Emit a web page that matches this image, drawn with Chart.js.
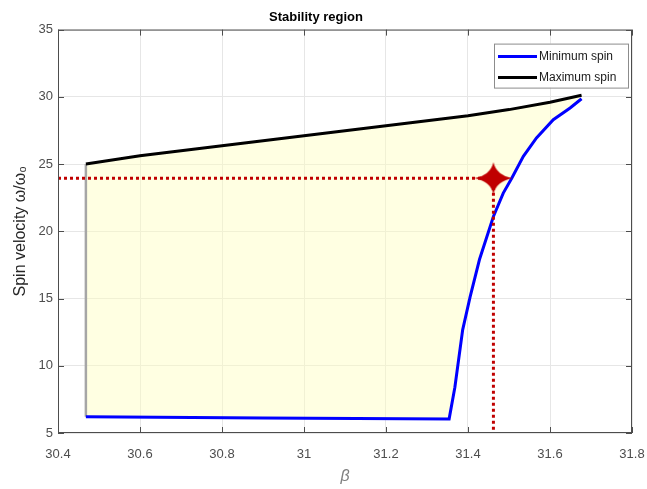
<!DOCTYPE html>
<html>
<head>
<meta charset="utf-8">
<title>Stability region</title>
<script src="https://cdn.jsdelivr.net/npm/chart.js@4.4.1/dist/chart.umd.min.js"></script>
<style>
  html, body { margin: 0; padding: 0; background: #fff; }
  #wrap { width: 647px; height: 489px; }
</style>
</head>
<body>
<div id="wrap"><canvas id="myChart" width="647" height="489"></canvas></div>
<script>
// values
let maxBeta = [30.468, 30.6, 30.8, 31.0, 31.2, 31.4, 31.5, 31.6, 31.677]
let maxSpin = [25.0, 25.62, 26.36, 27.1, 27.85, 28.6, 29.05, 29.6, 30.12]

let minBeta = [30.468, 30.9, 31.354, 31.368, 31.387, 31.405, 31.428, 31.462, 31.486, 31.507, 31.535, 31.567, 31.608, 31.649, 31.677]
let minSpin = [6.2, 6.12, 6.05, 8.4, 12.67, 15.1, 17.9, 21.1, 22.84, 23.96, 25.57, 26.94, 28.3, 29.17, 29.86]

// operating point (the red star)
let opBeta = [31.462]
let opSpin = [23.95]

// axes
let xTicks = [30.4, 30.6, 30.8, 31.0, 31.2, 31.4, 31.6, 31.8]
let yTicks = [5, 10, 15, 20, 25, 30, 35]

let font = '"Liberation Sans", Arial, sans-serif'

function toPoints(xs, ys) {
  return xs.map((x, i) => ({x: x, y: ys[i]}))
}

let maxLine = toPoints(maxBeta, maxSpin)
let minLine = toPoints(minBeta, minSpin)
// closed region between both curves
let region = maxLine.concat(minLine.slice().reverse())
// grey left edge of the region
let leftEdge = [{x: maxBeta[0], y: minSpin[0]}, {x: maxBeta[0], y: maxSpin[0]}]
// dotted guide lines to the axes
let guide = [
  {x: xTicks[0], y: opSpin[0]},
  {x: opBeta[0], y: opSpin[0]},
  {x: opBeta[0], y: yTicks[0]}
]

// 4 point star used as the marker
function makeStar() {
  let c = document.createElement('canvas')
  c.width = 40
  c.height = 34
  let g = c.getContext('2d')
  let cx = 20, cy = 17, k = 3
  g.fillStyle = '#c00000'
  g.beginPath()
  g.moveTo(cx - 19, cy)
  g.quadraticCurveTo(cx - k, cy - k, cx, cy - 16)
  g.quadraticCurveTo(cx + k, cy - k, cx + 19, cy)
  g.quadraticCurveTo(cx + k, cy + k, cx, cy + 16)
  g.quadraticCurveTo(cx - k, cy + k, cx - 19, cy)
  g.fill()
  return c
}

// box round the axes, inward ticks and the legend
const framePlugin = {
  id: 'framePlugin',
  afterDatasetsDraw(chart) {
    let ctx = chart.ctx
    let a = chart.chartArea
    let xs = chart.scales.x
    let ys = chart.scales.y
    ctx.save()
    ctx.strokeStyle = '#4d4d4d'
    ctx.lineWidth = 1
    ctx.strokeRect(a.left + 0.5, a.top + 0.5, a.right - a.left - 1, a.bottom - a.top - 1)
    ctx.beginPath()
    xTicks.forEach(v => {
      let px = Math.round(xs.getPixelForValue(v)) + 0.5
      ctx.moveTo(px, a.bottom)
      ctx.lineTo(px, a.bottom - 6)
      ctx.moveTo(px, a.top)
      ctx.lineTo(px, a.top + 6)
    })
    yTicks.forEach(v => {
      let py = Math.round(ys.getPixelForValue(v)) + 0.5
      ctx.moveTo(a.left, py)
      ctx.lineTo(a.left + 6, py)
      ctx.moveTo(a.right, py)
      ctx.lineTo(a.right - 6, py)
    })
    ctx.stroke()
    ctx.restore()
  },
  afterDraw(chart) {
    let ctx = chart.ctx
    let a = chart.chartArea
    let items = chart.data.datasets.filter(d => d.inLegend)
    let w = 134, h = 44
    let x0 = a.right - 4 - w
    let y0 = a.top + 14
    ctx.save()
    ctx.fillStyle = '#fff'
    ctx.fillRect(x0, y0, w, h)
    ctx.strokeStyle = '#8c8c8c'
    ctx.lineWidth = 1
    ctx.strokeRect(x0 + 0.5, y0 + 0.5, w, h)
    ctx.font = '12px ' + font
    ctx.textBaseline = 'middle'
    items.forEach((d, i) => {
      let y = y0 + 13 + i * 21
      ctx.strokeStyle = d.borderColor
      ctx.lineWidth = 3
      ctx.beginPath()
      ctx.moveTo(x0 + 4, y)
      ctx.lineTo(x0 + 43, y)
      ctx.stroke()
      ctx.fillStyle = '#1a1a1a'
      ctx.fillText(d.label, x0 + 45, y)
    })
    ctx.restore()
  }
}

new Chart('myChart', {
  type: 'line',
  data: {
    datasets: [
      {
        label: 'Operating point',
        data: toPoints(opBeta, opSpin),
        showLine: false,
        pointStyle: makeStar(),
        pointRadius: 10,
        order: 0
      },
      {
        label: 'Guide',
        data: guide,
        borderColor: '#c00000',
        borderWidth: 3,
        borderDash: [3, 3],
        pointRadius: 0,
        fill: false,
        order: 1
      },
      {
        label: 'Minimum spin',
        data: minLine,
        borderColor: '#0000ff',
        borderWidth: 3,
        pointRadius: 0,
        fill: false,
        inLegend: true,
        order: 2
      },
      {
        label: 'Maximum spin',
        data: maxLine,
        borderColor: '#000000',
        borderWidth: 3,
        pointRadius: 0,
        fill: false,
        inLegend: true,
        order: 3
      },
      {
        label: 'Edge',
        data: leftEdge,
        borderColor: '#a6a6a6',
        borderWidth: 2.5,
        pointRadius: 0,
        fill: false,
        order: 4
      },
      {
        label: 'Region',
        data: region,
        borderWidth: 0,
        borderColor: 'rgba(0,0,0,0)',
        backgroundColor: 'rgba(255, 255, 190, 0.45)',
        pointRadius: 0,
        fill: 'shape',
        order: 5
      }
    ]
  },
  options: {
    responsive: false,
    animation: false,
    events: [],
    layout: {padding: {left: 0, right: 15, top: 0, bottom: 0}},
    plugins: {
      legend: {display: false},
      tooltip: {enabled: false},
      title: {
        display: true,
        text: 'Stability region',
        color: '#000',
        font: {family: font, size: 13, weight: 'bold'},
        padding: {top: 10, bottom: 4}
      }
    },
    scales: {
      x: {
        type: 'linear',
        min: xTicks[0],
        max: xTicks[xTicks.length - 1],
        afterFit: s => {
          s.height = 56
          s.paddingLeft = 0
          s.paddingRight = 0
        },
        afterBuildTicks: s => { s.ticks = xTicks.map(v => ({value: v})) },
        grid: {color: '#e6e6e6', drawTicks: false},
        border: {display: false},
        ticks: {
          color: '#4d4d4d',
          font: {family: font, size: 13},
          padding: 14,
          maxRotation: 0,
          autoSkip: false,
          callback: v => String(Number(v.toFixed(1)))
        },
        title: {
          display: true,
          text: 'β',
          color: '#808080',
          font: {family: font, size: 16, style: 'italic'},
          padding: {top: 0, bottom: 3}
        }
      },
      y: {
        type: 'linear',
        min: yTicks[0],
        max: yTicks[yTicks.length - 1],
        afterFit: s => { s.width = 58 },
        afterBuildTicks: s => { s.ticks = yTicks.map(v => ({value: v})) },
        grid: {color: '#e6e6e6', drawTicks: false},
        border: {display: false},
        ticks: {
          color: '#4d4d4d',
          font: {family: font, size: 13},
          padding: 5
        },
        title: {
          display: true,
          text: 'Spin velocity ω/ω₀',
          color: '#262626',
          font: {family: font, size: 16},
          padding: {top: 11, bottom: 0}
        }
      }
    }
  },
  plugins: [framePlugin]
})
</script>
</body>
</html>
